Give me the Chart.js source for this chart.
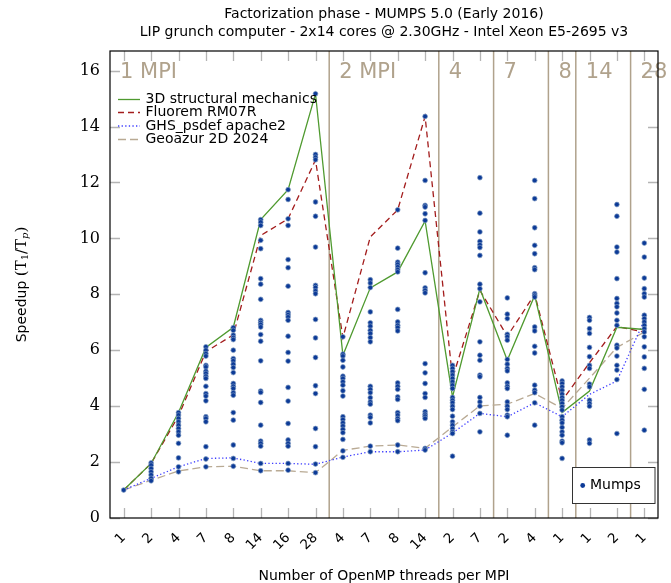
<!DOCTYPE html>
<html>
<head>
<meta charset="utf-8">
<script src="https://cdn.jsdelivr.net/npm/chart.js@4.4.0/dist/chart.umd.min.js"></script>
<style>
  html, body { margin: 0; padding: 0; background: #fff; }
</style>
</head>
<body>
<canvas id="chart-speedup" width="671" height="583"></canvas>
<script>
// x categories: OpenMP threads per MPI, grouped by number of MPI processes
var threads = ['1', '2', '4', '7', '8', '14', '16', '28', '4', '7', '8', '14', '2', '7', '2', '4', '1', '1', '2', '1'];
var groupLabels = ['1 MPI', '2 MPI', '4', '7', '8', '14', '28'];
var groupSizes = [8, 4, 2, 2, 1, 2, 1];

// speedup per matrix
var structural = [1.0, 1.95, 3.77, 6.1, 6.82, 10.67, 11.74, 15.17, 5.82, 8.23, 8.8, 10.62, 4.33, 8.2, 5.64, 7.96, 3.77, 4.54, 6.82, 6.74];
var fluorem = [1.0, 1.95, 3.65, 5.95, 6.55, 10.1, 10.7, 12.8, 6.45, 10.05, 11.02, 14.36, 5.0, 8.14, 6.5, 8.0, 4.2, 5.55, 6.85, 6.65];
var ghs = [1.0, 1.42, 1.83, 2.13, 2.15, 1.95, 1.95, 1.92, 2.18, 2.37, 2.37, 2.43, 3.04, 3.74, 3.62, 4.12, 3.62, 4.42, 4.9, 7.07];
var geoazur = [1.0, 1.35, 1.68, 1.83, 1.85, 1.69, 1.69, 1.62, 2.42, 2.57, 2.61, 2.49, 3.26, 4.01, 4.07, 4.45, 3.92, 5.0, 6.1, 6.65];

// all Mumps runs, one list per x category
var mumps = [
	[1.0],
	[1.97, 1.89, 1.77, 1.65, 1.54, 1.42, 1.33],
	[3.77, 3.68, 3.56, 3.44, 3.32, 3.2, 3.08, 2.96, 2.67, 2.15, 1.83, 1.65],
	[6.12, 6.0, 5.88, 5.79, 5.46, 5.4, 5.25, 5.17, 5.07, 4.99, 4.71, 4.45, 4.36, 4.19, 3.62, 3.56, 3.44, 2.55, 2.11, 1.83],
	[6.81, 6.71, 6.54, 6.45, 6.38, 6.0, 5.7, 5.62, 5.5, 5.38, 5.2, 4.81, 4.71, 4.63, 4.48, 4.39, 3.77, 3.5, 2.61, 2.13, 1.85],
	[10.67, 10.58, 10.46, 9.93, 9.63, 8.56, 8.36, 7.82, 7.07, 6.99, 6.92, 6.83, 6.56, 6.32, 5.62, 4.54, 4.49, 4.13, 3.32, 2.75, 2.67, 2.57, 1.95, 1.69],
	[11.74, 11.39, 10.7, 10.46, 9.24, 8.95, 8.29, 7.35, 7.27, 7.19, 7.07, 6.5, 5.92, 5.61, 4.67, 4.18, 3.38, 2.79, 2.67, 2.57, 1.95, 1.71],
	[15.17, 13.0, 12.9, 12.81, 11.3, 10.79, 9.69, 8.32, 8.24, 8.12, 8.02, 7.1, 6.44, 5.74, 4.73, 4.45, 3.2, 2.55, 1.93, 1.62],
	[6.48, 5.86, 5.79, 5.64, 5.4, 5.07, 4.99, 4.87, 4.75, 4.55, 4.36, 3.62, 3.52, 3.4, 3.29, 3.17, 3.05, 2.81, 2.4, 2.17],
	[8.52, 8.4, 8.24, 7.37, 6.98, 6.86, 6.71, 6.6, 6.45, 6.3, 4.71, 4.6, 4.48, 4.3, 4.15, 4.07, 3.68, 3.6, 3.4, 2.57, 2.37],
	[11.02, 9.65, 9.15, 9.07, 8.98, 8.88, 8.8, 7.46, 7.01, 6.89, 6.81, 6.69, 4.83, 4.71, 4.6, 4.33, 4.24, 3.77, 3.68, 3.56, 3.48, 2.61, 2.37],
	[14.36, 12.07, 11.18, 11.12, 10.88, 10.64, 8.77, 8.23, 8.14, 8.05, 5.52, 5.19, 4.81, 4.45, 4.31, 3.8, 3.71, 3.64, 3.56, 2.49, 2.43],
	[5.46, 5.35, 5.23, 5.11, 4.99, 4.87, 4.75, 4.63, 4.31, 4.21, 4.12, 4.0, 3.88, 3.64, 3.44, 3.32, 3.2, 3.08, 3.02, 2.21],
	[12.17, 10.9, 10.23, 9.89, 9.77, 9.67, 9.39, 8.36, 8.2, 7.73, 6.3, 5.82, 5.64, 5.11, 5.05, 4.31, 4.15, 4.0, 3.74, 3.08],
	[7.87, 7.29, 7.13, 6.57, 6.48, 6.36, 5.67, 5.5, 5.35, 5.26, 4.83, 4.71, 4.63, 4.15, 4.0, 3.88, 3.68, 3.62, 2.96],
	[12.07, 11.42, 10.38, 9.75, 9.45, 8.95, 8.88, 8.02, 7.96, 7.9, 6.83, 6.69, 6.14, 5.9, 4.75, 4.57, 4.48, 4.12, 3.32],
	[4.9, 4.81, 4.69, 4.57, 4.43, 4.31, 4.21, 4.1, 3.98, 3.86, 3.62, 3.5, 3.4, 3.24, 3.08, 2.96, 2.75, 2.69, 2.13],
	[7.17, 7.07, 6.77, 6.6, 6.1, 5.77, 5.46, 5.35, 4.79, 4.69, 4.21, 4.1, 4.0, 2.79, 2.67],
	[11.21, 10.79, 9.69, 9.51, 8.56, 7.85, 7.67, 7.55, 7.33, 7.07, 6.89, 6.18, 6.08, 5.79, 5.46, 5.29, 4.95, 3.02],
	[9.83, 9.33, 8.58, 8.2, 8.02, 7.9, 7.25, 7.13, 7.01, 6.89, 6.77, 6.65, 6.48, 6.12, 5.76, 5.35, 4.6, 3.14]
];

var sans = '"DejaVu Sans", sans-serif';
var serif = '"DejaVu Serif", serif';
var tan = '#b0a28c';

var series = [
	{ label: '3D structural mechanics', data: structural, color: '#4f9a2f', dash: [] },
	{ label: 'Fluorem RM07R', data: fluorem, color: '#a31c1c', dash: [6, 4] },
	{ label: 'GHS_psdef apache2', data: ghs, color: '#3c3cff', dash: [1.3, 2.3] },
	{ label: 'Geoazur 2D 2024', data: geoazur, color: '#b9aa94', dash: [8, 4] }
];

function toPoints(values) {
	return values.map((v, i) => ({ x: i, y: v }));
}

var mumpsPoints = [];
mumps.forEach((col, i) => {
	for (v of col) mumpsPoints.push({ x: i, y: v });
});

var datasets = [{
	label: 'Mumps',
	data: mumpsPoints,
	showLine: false,
	pointRadius: 2.4,
	pointBorderWidth: 0.7,
	pointBackgroundColor: '#0c3a97',
	pointBorderColor: '#7f9bc2',
	order: 0
}];
series.forEach(s => {
	datasets.push({
		label: s.label,
		data: toPoints(s.data),
		borderColor: s.color,
		borderWidth: 1.3,
		borderDash: s.dash,
		pointRadius: 0,
		tension: 0,
		fill: false,
		order: 1
	});
});

// decorations pgfplots draws: box, inner ticks, MPI groups, titles, legends
var decorations = {
	id: 'decorations',
	beforeDatasetsDraw(chart) {
		var ctx = chart.ctx, a = chart.chartArea, x = chart.scales.x, y = chart.scales.y;
		ctx.save();
		// inner tick marks
		ctx.strokeStyle = '#b4b4b4';
		ctx.lineWidth = 1.3;
		ctx.beginPath();
		threads.forEach((t, i) => {
			var px = Math.round(x.getPixelForValue(i)) + 0.5;
			ctx.moveTo(px, a.bottom); ctx.lineTo(px, a.bottom - 10);
			ctx.moveTo(px, a.top); ctx.lineTo(px, a.top + 10);
		});
		y.ticks.forEach(t => {
			var py = Math.round(y.getPixelForValue(t.value)) + 0.5;
			ctx.moveTo(a.left, py); ctx.lineTo(a.left + 10, py);
			ctx.moveTo(a.right, py); ctx.lineTo(a.right - 10, py);
		});
		ctx.stroke();

		// MPI group separators and labels
		ctx.strokeStyle = tan;
		ctx.lineWidth = 1.5;
		ctx.fillStyle = tan;
		ctx.font = '21px ' + sans;
		ctx.textBaseline = 'alphabetic';
		ctx.textAlign = 'left';
		var start = 0;
		groupLabels.forEach((label, g) => {
			var left = a.left;
			if (start > 0) {
				left = x.getPixelForValue(start - 0.5);
				ctx.beginPath();
				ctx.moveTo(left, a.top);
				ctx.lineTo(left, a.bottom);
				ctx.stroke();
			}
			ctx.fillText(label, left + 10, a.top + 26.5);
			start += groupSizes[g];
		});
		ctx.restore();
	},
	afterDraw(chart) {
		var ctx = chart.ctx, a = chart.chartArea;
		var cx = (a.left + a.right) / 2;
		ctx.save();
		// box
		ctx.strokeStyle = '#000';
		ctx.lineWidth = 1.2;
		ctx.strokeRect(a.left, a.top, a.right - a.left, a.bottom - a.top);

		// titles
		ctx.fillStyle = '#000';
		ctx.textAlign = 'center';
		ctx.textBaseline = 'middle';
		ctx.font = '14px ' + sans;
		ctx.fillText('Factorization phase - MUMPS 5.0 (Early 2016)', cx, 14);
		ctx.fillText('LIP grunch computer - 2x14 cores @ 2.30GHz - Intel Xeon E5-2695 v3', cx, 32);
		ctx.fillText('Number of OpenMP threads per MPI', cx, 576);

		// y axis title with subscripts
		var parts = [
			{ t: 'Speedup ', f: '14px ' + sans, dy: 0 },
			{ t: '(T', f: '15px ' + serif, dy: 0 },
			{ t: '1', f: '10px ' + serif, dy: 3 },
			{ t: '/T', f: '15px ' + serif, dy: 0 },
			{ t: 'p', f: 'italic 10px ' + serif, dy: 3 },
			{ t: ')', f: '15px ' + serif, dy: 0 }
		];
		var total = 0;
		parts.forEach(p => { ctx.font = p.f; p.w = ctx.measureText(p.t).width; total += p.w; });
		ctx.translate(22, (a.top + a.bottom) / 2);
		ctx.rotate(-Math.PI / 2);
		ctx.textAlign = 'left';
		var px = -total / 2;
		parts.forEach(p => { ctx.font = p.f; ctx.fillText(p.t, px, p.dy); px += p.w; });
		ctx.setTransform(1, 0, 0, 1, 0, 0);

		// legend of the matrices, top left
		ctx.font = '14px ' + sans;
		ctx.textAlign = 'left';
		var rows = [99.5, 112.5, 126, 139.5];
		series.forEach((s, i) => {
			ctx.strokeStyle = s.color;
			ctx.lineWidth = 1.3;
			ctx.setLineDash(s.dash);
			ctx.beginPath();
			ctx.moveTo(118, rows[i]);
			ctx.lineTo(140, rows[i]);
			ctx.stroke();
			ctx.setLineDash([]);
			ctx.fillStyle = '#000';
			ctx.fillText(s.label, 145.5, rows[i]);
		});

		// Mumps legend box, bottom right
		ctx.fillStyle = '#fff';
		ctx.fillRect(572.5, 467.5, 82.5, 36);
		ctx.strokeStyle = '#333';
		ctx.lineWidth = 1;
		ctx.strokeRect(572.5, 467.5, 82.5, 36);
		ctx.beginPath();
		ctx.arc(582.7, 485.5, 2.4, 0, Math.PI * 2);
		ctx.fillStyle = '#0c3a97';
		ctx.fill();
		ctx.fillStyle = '#000';
		ctx.fillText('Mumps', 590, 485.5);
		ctx.restore();
	}
};

var ctx = document.getElementById('chart-speedup').getContext('2d');
var chart = new Chart(ctx, {
	type: 'line',
	data: { datasets: datasets },
	options: {
		responsive: false,
		animation: false,
		layout: { padding: { top: 51, right: 13, left: 0, bottom: 0 } },
		plugins: { legend: { display: false }, tooltip: { enabled: false }, title: { display: false } },
		scales: {
			x: {
				type: 'linear',
				min: -0.5,
				max: 19.5,
				afterBuildTicks: s => { s.ticks = threads.map((t, i) => ({ value: i })); },
				afterFit: s => { s.height = 65; },
				grid: { display: false, drawTicks: false },
				border: { display: false },
				ticks: {
					autoSkip: false,
					minRotation: 45,
					maxRotation: 45,
					padding: 12,
					color: '#000',
					font: { family: sans, size: 13.5 },
					callback: v => threads[v]
				}
			},
			y: {
				min: 0,
				max: 16.7,
				afterFit: s => { s.width = 110; },
				grid: { display: false, drawTicks: false },
				border: { display: false },
				ticks: {
					stepSize: 2,
					includeBounds: false,
					padding: 10,
					color: '#000',
					font: { family: serif, size: 16 }
				}
			}
		}
	},
	plugins: [decorations]
});
</script>
</body>
</html>
